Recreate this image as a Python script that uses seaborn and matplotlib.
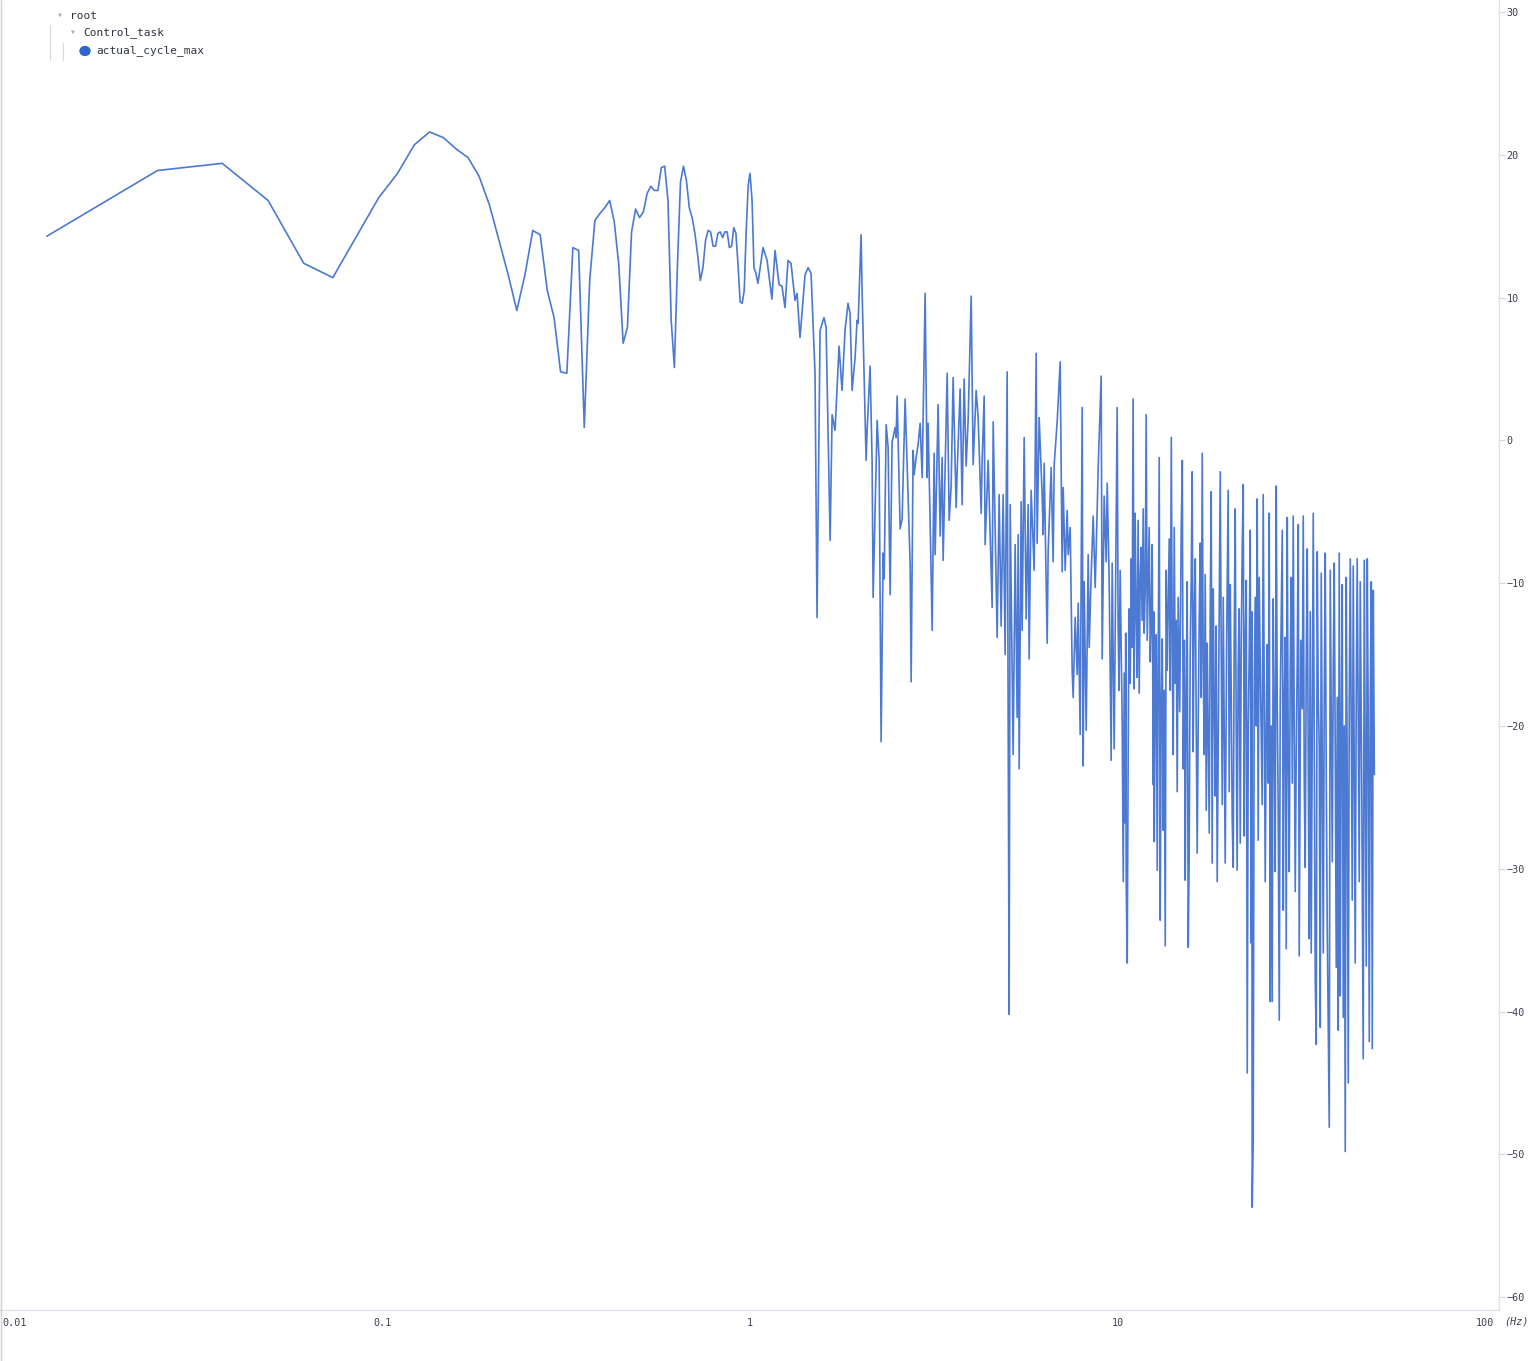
import numpy as np
import pandas as pd
import seaborn as sns
import matplotlib.pyplot as plt
from matplotlib.lines import Line2D
from matplotlib.patches import Circle
from matplotlib.ticker import NullLocator

# first 80 FFT bins (8192-point FFT, 100 Hz sample rate)
low_bins = np.arange(1, 81)
low_db = [14.3, 18.9, 19.4, 16.8, 12.4, 11.4, 14.4, 17.0, 18.7, 20.7,
          21.6, 21.2, 20.4, 19.8, 18.5, 16.5, 14.0, 11.6, 9.1, 11.6,
          14.7, 14.4, 10.5, 8.6, 4.8, 4.7, 13.5, 13.3, 0.9, 11.2,
          15.4, 15.9, 16.3, 16.8, 15.3, 12.3, 6.8, 7.9, 14.6, 16.2,
          15.6, 16.0, 17.3, 17.8, 17.5, 17.5, 19.1, 19.2, 16.8, 8.4,
          5.1, 12.3, 18.1, 19.2, 18.2, 16.3, 15.6, 14.5, 13.0, 11.2,
          12.1, 14.0, 14.7, 14.6, 13.6, 13.6, 14.5, 14.6, 14.2, 14.6,
          14.6, 13.5, 13.6, 14.9, 14.5, 12.3, 9.7, 9.6, 10.5, 14.7]

# 1 - 10 Hz: peaks and troughs
mid_hz = [0.989, 1.000, 1.013, 1.025, 1.038, 1.051, 1.085, 1.113, 1.147, 1.170,
          1.200, 1.222, 1.245, 1.269, 1.293, 1.326, 1.343, 1.368, 1.412, 1.439,
          1.466, 1.503, 1.522, 1.551, 1.590, 1.611, 1.652, 1.673, 1.704, 1.747,
          1.780, 1.814, 1.848, 1.872, 1.896, 1.932, 1.956, 1.969, 2.006, 2.018,
          2.070, 2.083, 2.122, 2.149, 2.163, 2.218, 2.246, 2.274, 2.303, 2.318,
          2.347, 2.376, 2.406, 2.436, 2.483, 2.499, 2.514, 2.562, 2.594, 2.643,
          2.728, 2.745, 2.779, 2.797, 2.832, 2.867, 2.904, 2.941, 2.996, 3.034,
          3.053, 3.092, 3.131, 3.170, 3.190, 3.250, 3.292, 3.333, 3.354, 3.440,
          3.483, 3.527, 3.571, 3.639, 3.662, 3.731, 3.778, 3.826, 3.874, 3.923,
          3.998, 4.048, 4.125, 4.177, 4.257, 4.283, 4.337, 4.364, 4.447, 4.560,
          4.589, 4.676, 4.705, 4.764, 4.824, 4.885, 4.947, 5.009, 5.040, 5.072,
          5.105, 5.201, 5.267, 5.333, 5.367, 5.401, 5.469, 5.503, 5.573, 5.643,
          5.714, 5.750, 5.822, 5.932, 6.008, 6.045, 6.122, 6.238, 6.277, 6.317,
          6.437, 6.478, 6.600, 6.683, 6.726, 6.853, 6.983, 7.071, 7.116, 7.206,
          7.297, 7.343, 7.435, 7.529, 7.576, 7.672, 7.769, 7.818, 7.916, 8.016,
          8.066, 8.117, 8.219, 8.323, 8.375, 8.481, 8.588, 8.696, 8.806, 8.861,
          9.029, 9.086, 9.200, 9.317, 9.376, 9.494, 9.613, 9.674, 9.795, 9.919,
          9.981]
mid_db = [17.9, 18.7, 16.8, 12.1, 11.7, 11.0, 13.5, 12.6, 9.9, 13.3,
          10.9, 10.8, 9.3, 12.6, 12.4, 9.8, 10.3, 7.2, 11.6, 12.1,
          11.7, 4.7, -12.4, 7.7, 8.6, 7.9, -7.0, 1.8, 0.7, 6.6,
          3.5, 7.7, 9.6, 8.9, 3.5, 5.8, 8.4, 8.2, 14.4, 10.6,
          -1.4, 0.7, 5.2, -1.4, -11.0, 1.4, -1.4, -21.1, -7.9, -9.7,
          1.1, -0.5, -10.8, -0.1, 0.9, 0.2, 3.1, -6.2, -5.5, 2.9,
          -8.7, -16.9, -0.7, -2.4, -1.2, -0.3, 1.2, -2.6, 10.3, -2.6,
          1.2, -5.8, -13.3, -0.9, -8.0, 2.5, -6.7, -1.2, -8.4, 4.7,
          -5.6, -3.2, 4.4, -4.7, -2.2, 3.6, -4.5, 4.3, -1.8, 1.4,
          10.1, -1.7, 3.5, 1.6, -5.1, -1.4, 3.1, -7.3, -1.4, -11.7,
          1.3, -9.9, -13.8, -3.8, -13.0, -3.8, -15.0, 4.8, -18.9, -40.2,
          -4.5, -22.0, -7.3, -19.4, -6.6, -23.0, -4.3, -13.3, 0.2, -12.5,
          -4.5, -15.3, -3.5, -9.1, 6.1, -7.2, 1.6, -3.9, -6.6, -1.6,
          -14.2, -7.7, -1.9, -8.5, -1.7, 1.3, 5.5, -9.2, -3.3, -9.1,
          -4.9, -8.0, -6.1, -16.1, -18.0, -12.4, -16.4, -11.4, -20.6, 2.3,
          -22.8, -9.9, -20.3, -8.0, -14.5, -9.4, -5.3, -10.3, -4.9, -1.9,
          4.5, -15.3, -3.9, -8.5, -3.0, -9.9, -22.4, -8.6, -21.6, -5.5,
          2.3]

# 10 - 50 Hz: dense band, peaks, troughs and strokes inside the band
band_hz = [10.04, 10.10, 10.17, 10.23, 10.30, 10.37, 10.43, 10.50, 10.53, 10.56,
           10.63, 10.70, 10.76, 10.83, 10.90, 10.96, 11.03, 11.10, 11.17, 11.24,
           11.31, 11.38, 11.46, 11.53, 11.60, 11.67, 11.75, 11.82, 11.90, 11.97,
           12.05, 12.12, 12.20, 12.28, 12.35, 12.43, 12.51, 12.55, 12.59, 12.67,
           12.75, 12.83, 12.91, 12.99, 13.07, 13.15, 13.24, 13.32, 13.40, 13.49,
           13.57, 13.66, 13.75, 13.83, 13.92, 14.01, 14.10, 14.18, 14.27, 14.36,
           14.45, 14.54, 14.63, 14.77, 14.91, 15.01, 15.10, 15.20, 15.29, 15.38,
           15.48, 15.58, 15.67, 15.77, 15.87, 15.97, 16.07, 16.17, 16.28, 16.38,
           16.48, 16.59, 16.70, 16.80, 16.90, 17.01, 17.11, 17.22, 17.33, 17.44,
           17.55, 17.66, 17.77, 17.88, 17.99, 18.10, 18.22, 18.33, 18.45, 18.56,
           18.68, 18.86, 19.04, 19.16, 19.28, 19.40, 19.52, 19.64, 19.82, 20.01,
           20.14, 20.27, 20.40, 20.52, 20.65, 20.78, 20.91, 21.04, 21.17, 21.30,
           21.44, 21.58, 21.72, 21.85, 21.99, 22.06, 22.13, 22.27, 22.41, 22.55,
           22.69, 22.83, 22.97, 23.05, 23.12, 23.19, 23.26, 23.41, 23.55, 23.70,
           23.85, 24.00, 24.15, 24.30, 24.53, 24.77, 24.92, 25.08, 25.24, 25.40,
           25.56, 25.72, 25.88, 26.04, 26.20, 26.37, 26.53, 26.70, 26.87, 27.04,
           27.21, 27.38, 27.56, 27.73, 27.91, 28.08, 28.26, 28.44, 28.61, 28.79,
           28.97, 29.15, 29.34, 29.52, 29.71, 29.90, 30.08, 30.27, 30.46, 30.65,
           30.84, 31.04, 31.23, 31.53, 31.83, 32.03, 32.23, 32.43, 32.63, 32.84,
           33.04, 33.25, 33.46, 33.67, 33.88, 34.10, 34.32, 34.53, 34.75, 34.96,
           35.18, 35.41, 35.63, 35.85, 36.08, 36.31, 36.53, 36.76, 37.00, 37.23,
           37.70, 37.93, 38.18, 38.42, 38.65, 38.89, 39.14, 39.39, 39.64, 39.88,
           40.13, 40.38, 40.63, 40.89, 41.15, 41.41, 41.67, 41.93, 42.20, 42.46,
           42.73, 43.00, 43.27, 43.54, 43.81, 44.08, 44.36, 44.64, 44.92, 45.20,
           45.49, 45.78, 46.20, 46.64, 46.94, 47.23, 47.53, 47.83, 48.13, 48.44,
           48.74, 49.05, 49.36, 49.67, 50.00]
band_db = [-12.8, -17.5, -9.1, -14.0, -19.8, -30.9, -16.3, -26.8, -13.5, -30.8,
           -36.6, -20.5, -11.8, -17.0, -8.3, -14.5, 2.9, -17.4, -5.1, -12.0,
           -16.6, -5.6, -17.7, -9.5, -7.5, -12.6, -4.8, -13.5, -10.4, 1.8,
           -14.0, -10.4, -6.1, -15.5, -12.6, -7.3, -24.1, -12.0, -28.1, -18.0,
           -13.6, -30.1, -15.0, -1.2, -33.6, -19.0, -13.9, -27.3, -17.5, -35.4,
           -9.1, -16.1, -11.0, -6.9, -17.5, 0.2, -15.0, -22.0, -6.1, -17.0,
           -12.6, -24.6, -11.0, -19.0, -6.1, -1.4, -23.0, -14.0, -30.8, -18.0,
           -9.9, -35.5, -29.2, -15.0, -9.9, -2.2, -21.8, -12.0, -8.3, -20.0,
           -28.9, -19.3, -12.0, -7.2, -18.0, -0.9, -15.3, -22.0, -9.4, -25.9,
           -14.2, -21.0, -27.5, -12.0, -3.6, -29.6, -10.4, -18.0, -24.9, -13.0,
           -30.9, -16.0, -2.2, -15.0, -25.5, -11.0, -20.0, -29.6, -14.0, -3.5,
           -24.6, -10.1, -18.0, -26.5, -29.9, -14.0, -4.8, -20.0, -30.1, -16.0,
           -11.8, -28.2, -14.0, -7.6, -3.1, -16.0, -27.7, -14.0, -9.8, -44.3,
           -20.0, -14.8, -6.3, -22.0, -35.2, -12.0, -53.7, -49.0, -18.0, -11.0,
           -20.0, -4.1, -28.0, -9.6, -18.0, -25.5, -3.8, -17.0, -30.9, -20.0,
           -14.3, -24.0, -5.1, -39.3, -20.0, -39.3, -11.1, -20.0, -30.2, -3.2,
           -18.2, -26.0, -40.6, -18.0, -12.1, -6.3, -32.9, -18.0, -13.8, -35.6,
           -5.4, -22.0, -30.2, -16.0, -9.6, -24.0, -5.3, -20.0, -31.6, -22.0,
           -15.5, -5.9, -36.1, -14.0, -18.8, -5.3, -24.0, -29.9, -16.0, -7.6,
           -22.0, -34.9, -12.0, -35.9, -20.0, -5.1, -22.0, -37.8, -42.3, -7.8,
           -18.0, -21.5, -41.1, -9.3, -22.0, -35.9, -18.0, -7.9, -24.0, -34.2,
           -48.1, -9.1, -20.0, -29.5, -16.0, -8.6, -22.0, -36.9, -18.0, -41.3,
           -7.9, -38.9, -20.0, -10.1, -40.4, -20.0, -49.8, -9.6, -24.0, -45.0,
           -18.0, -8.3, -20.0, -32.2, -8.8, -22.0, -36.6, -18.0, -8.3, -20.0,
           -30.9, -9.9, -24.0, -43.3, -8.4, -22.0, -36.8, -8.3, -20.0, -42.1,
           -18.0, -9.9, -42.6, -10.5, -23.4]

x_ticks = [0.01, 0.1, 1, 10, 100]
x_labels = ['0.01', '0.1', '1', '10', '100']
y_ticks = list(range(-60, 31, 10))

df = pd.DataFrame({
    'freq': np.concatenate([low_bins * 100 / 8192, mid_hz, band_hz]),
    'db': np.concatenate([low_db, mid_db, band_db]),
})

sns.set_style('white')
plt.rcParams['font.family'] = ['DejaVu Sans Mono']

W, H = 1532, 1361
fig = plt.figure(figsize=(W / 100, H / 100), dpi=100)
ax = fig.add_axes([0, 51 / H, 1499 / W, 1310 / H])

line_color = '#3366cc'
sns.lineplot(data=df, x='freq', y='db', ax=ax, color=line_color, lw=1.2,
             alpha=0.88, estimator=None, sort=False, legend=False)

ax.set_xscale('log')
ax.set_xlim(0.0091, 109.2)
ax.set_ylim(-60.9, 30.84)
ax.set_xticks(x_ticks)
ax.set_xticklabels(x_labels)
ax.xaxis.set_minor_locator(NullLocator())
ax.yaxis.tick_right()
ax.set_yticks(y_ticks)
ax.set_xlabel('')
ax.set_ylabel('')
ax.tick_params(axis='both', colors='#d3d6e2', labelcolor='#3c4150',
               labelsize=7.3, length=4, width=0.8)
ax.tick_params(axis='x', pad=2)
ax.tick_params(axis='y', pad=1.5)
for s in ['top', 'left']:
    ax.spines[s].set_visible(False)
for s in ['right', 'bottom']:
    ax.spines[s].set_color('#dfe1ea')
    ax.spines[s].set_linewidth(1)


def fx(x):
    return x / W


def fy(y):
    return 1 - y / H


# left border of the panel
fig.add_artist(Line2D([fx(0.5), fx(0.5)], [0, 1], color='#d0d0d0', lw=1))

fig.text(fx(1504), fy(1322), '(Hz)', fontsize=7.3, style='italic',
         color='#3c4150', va='center', ha='left')

# tree legend
txt = '#2f3440'
fig.text(fx(60), fy(15), '▾', fontsize=7, color='#a8abb4', ha='center', va='center')
fig.text(fx(70), fy(16), 'root', fontsize=8, color=txt, va='center')
fig.text(fx(73), fy(32), '▾', fontsize=7, color='#a8abb4', ha='center', va='center')
fig.text(fx(83), fy(33), 'Control_task', fontsize=8, color=txt, va='center')
fig.add_artist(Circle((fx(85), fy(51)), 5 / W, color=line_color,
                      transform=fig.transFigure))
fig.text(fx(96), fy(51), 'actual_cycle_max', fontsize=8, color=txt, va='center')
fig.add_artist(Line2D([fx(50), fx(50)], [fy(25), fy(60)], color='#d6d8de', lw=0.8))
fig.add_artist(Line2D([fx(63), fx(63)], [fy(43), fy(60)], color='#d6d8de', lw=0.8))

fig.savefig('out.png', dpi=100)
